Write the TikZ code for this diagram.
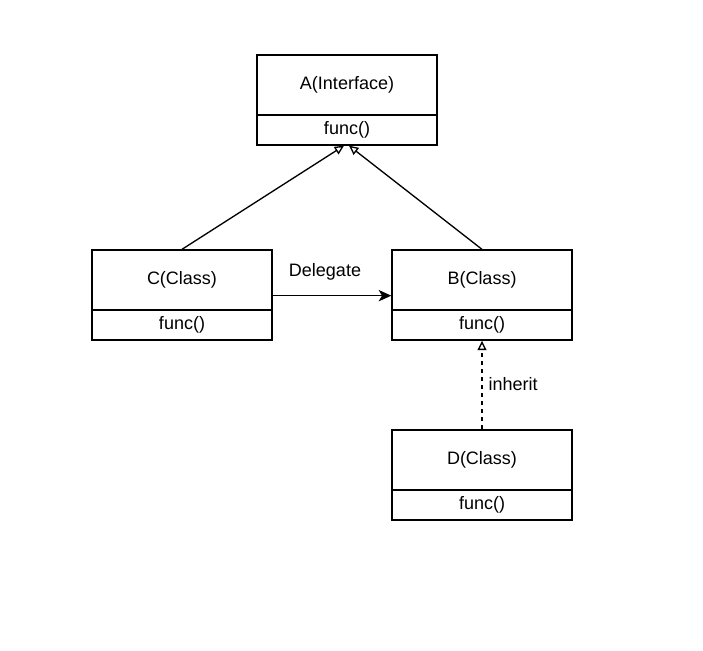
\documentclass[tikz,border=0pt]{standalone}
\usepackage{fontspec}
\setmainfont{Liberation Sans}
\usetikzlibrary{arrows.meta,calc}
\begin{document}
\begin{tikzpicture}[x=0.75pt,y=-0.75pt,
  line width=1pt,
  font=\fontsize{13.5pt}{16pt}\selectfont,
  head/.style={draw,minimum width=135pt,minimum height=45pt,inner sep=0pt,anchor=center},
  body/.style={draw,minimum width=135pt,minimum height=22.5pt,inner sep=0pt,anchor=center},
  realize/.style={-{Triangle[open,length=7pt,width=6.5pt]}},
  delegate/.style={-{Stealth[length=9.5pt,width=8.5pt,inset=2.5pt]}},
  lbl/.style={inner sep=0pt}]
\useasboundingbox (0,0) rectangle (703,650);
\fill[white] (0,0) rectangle (703,650);
% A
\node[head] (Ahead) at (347,85) {A(Interface)};
\node[body] (Abody) at (347,130) {func()};
% C
\node[head] (Chead) at (182,280) {C(Class)};
\node[body] (Cbody) at (182,325) {func()};
% B
\node[head] (Bhead) at (482,280) {B(Class)};
\node[body] (Bbody) at (482,325) {func()};
% D
\node[head] (Dhead) at (482,460) {D(Class)};
\node[body] (Dbody) at (482,505) {func()};
% connectors
\coordinate (aL) at ($(Abody.south)+(-3,0)$);
\coordinate (aR) at ($(Abody.south)+(2,0)$);
\draw[realize] (Chead.north) -- (aL);
\draw[realize] (Bhead.north) -- (aR);
\coordinate (cOut) at ($(Chead.south east)+(0,-15)$);
\coordinate (bIn) at ($(Bhead.south west)+(0,-15)$);
\draw[delegate] (cOut) -- (bIn);
\node[lbl] (dlg) at (325,272) {Delegate};
\draw[realize,dashed,dash pattern=on 3pt off 3pt] (Dhead.north) -- (Bbody.south);
\node[lbl,anchor=west] (inh) at (488,384) {inherit};
\end{tikzpicture}
\end{document}
